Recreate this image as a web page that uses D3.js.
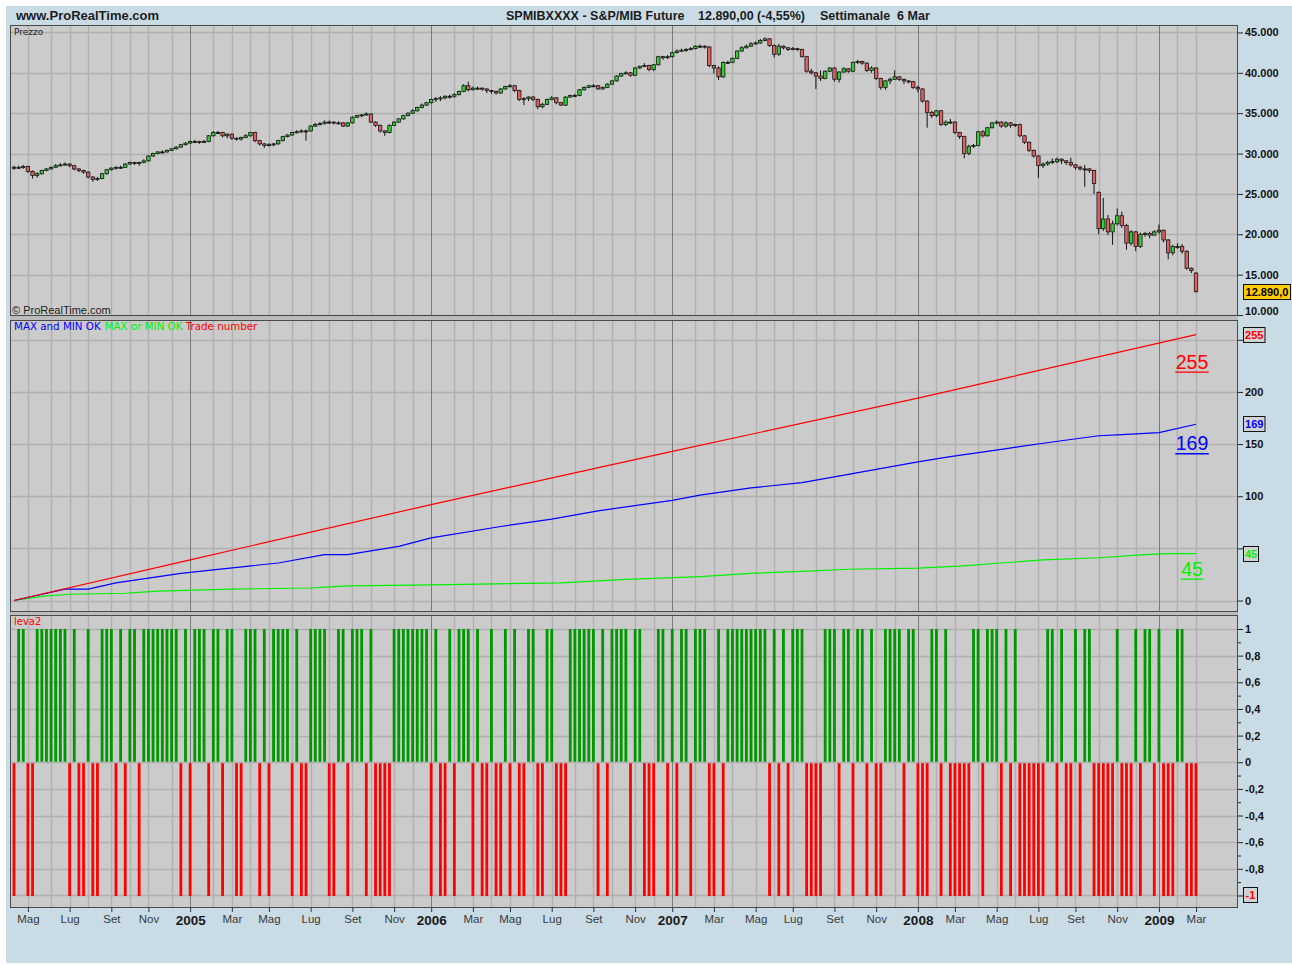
<!DOCTYPE html>
<html>
<head>
<meta charset="utf-8">
<script src="https://cdn.jsdelivr.net/npm/d3@7"></script>
<style>
  body { margin: 0; background: #fff; }
  svg text { font-family: "Liberation Sans", Arial, sans-serif; white-space: pre; }
</style>
</head>
<body>
<div id="chart"></div>
<script>
// weekly bars, dated by the monday of each week
var firstWeek = new Date(2004, 3, 12);
var lastWeek = new Date(2009, 2, 2);
var monthNames = ["Gen", "Feb", "Mar", "Apr", "Mag", "Giu", "Lug", "Ago", "Set", "Ott", "Nov", "Dic"];

// S&P/MIB future, thousands of points
var opens = [
 28.2,28.3,28.3,28.4,27.8,27.3,27.5,27.9,28.1,28.3,28.5,28.6,28.7,28.5,28.1,27.9,
 27.7,27.1,26.8,26.9,27.5,28.0,28.2,28.3,28.3,28.7,28.9,28.8,28.9,29.1,29.7,30.0,
 30.2,30.2,30.4,30.6,30.8,31.1,31.3,31.5,31.5,31.4,31.5,32.2,32.6,32.6,32.2,32.4,
 31.9,31.8,32.0,32.2,32.6,31.6,31.2,31.0,31.1,31.2,31.6,32.1,32.3,32.6,32.7,32.8,
 32.8,33.4,33.6,33.7,33.9,33.9,33.8,33.8,33.4,33.8,34.5,34.7,34.8,34.9,33.9,33.5,
 32.8,32.6,33.5,33.9,34.3,34.7,35.0,35.3,35.7,36.0,36.3,36.7,36.8,36.9,37.1,37.1,
 37.3,37.7,38.4,37.9,38.1,38.1,38.0,37.8,37.7,37.5,38.0,38.3,38.4,37.8,36.7,36.8,
 37.0,36.7,35.8,36.1,36.7,36.9,36.3,36.0,37.0,37.2,37.2,37.9,38.2,38.4,38.4,38.0,
 38.2,38.6,39.0,39.6,39.9,40.0,39.7,40.6,40.8,40.9,40.4,41.0,42.0,41.9,42.0,42.5,
 42.7,42.8,42.9,43.0,43.3,43.3,43.2,40.9,40.6,39.5,41.3,41.3,41.8,42.7,43.1,43.3,
 43.6,43.7,44.0,44.2,43.4,42.3,43.3,43.1,42.9,43.0,42.9,42.0,40.2,40.0,39.6,39.3,
 40.2,40.6,39.2,40.1,40.5,40.2,41.3,41.4,41.2,40.3,40.6,39.3,38.2,39.0,39.2,39.5,
 39.2,39.0,38.9,38.2,38.0,36.5,35.1,34.7,35.3,33.6,33.9,33.9,32.6,32.1,30.0,30.9,
 31.0,32.7,32.2,33.2,33.8,33.9,33.4,33.8,33.5,33.6,32.2,31.4,30.4,29.7,28.5,28.7,
 28.9,29.0,29.3,29.1,28.9,28.6,28.3,28.1,28.1,27.9,25.2,20.7,21.9,20.3,21.3,22.3,
 21.1,18.9,20.3,18.5,20.0,20.1,19.9,20.3,20.5,19.3,17.7,18.5,18.5,17.9,15.8,15.2];
var highs = [
 28.5,28.5,28.6,28.5,27.9,27.7,28.0,28.2,28.4,28.7,28.8,28.9,28.8,28.6,28.2,28.0,
 27.8,27.2,27.1,27.6,28.1,28.3,28.4,28.5,28.8,29.0,29.0,29.0,29.3,29.8,30.1,30.3,
 30.4,30.5,30.7,30.9,31.2,31.4,31.6,31.7,31.6,31.7,32.3,32.8,32.8,32.7,32.5,32.5,
 32.0,32.1,32.4,32.7,32.7,31.7,31.3,31.3,31.3,31.7,32.2,32.4,32.7,32.9,33.0,33.0,
 33.5,33.8,33.9,34.1,34.1,34.0,34.0,33.9,33.9,34.6,34.8,34.9,35.1,35.0,34.0,33.6,
 32.9,33.6,34.0,34.4,34.8,35.1,35.5,35.8,36.2,36.4,36.8,37.0,37.1,37.2,37.3,37.5,
 37.8,38.6,38.9,38.3,38.3,38.2,38.1,37.9,37.8,38.1,38.4,38.6,38.5,37.9,37.0,37.1,
 37.1,36.8,36.3,36.8,37.1,37.0,36.4,37.1,37.3,37.4,38.0,38.3,38.5,38.6,38.5,38.3,
 38.7,39.1,39.7,40.0,40.2,40.1,40.7,40.9,41.2,41.0,41.1,42.1,42.1,42.2,42.6,42.9,
 43.0,43.1,43.2,43.4,43.5,43.4,43.3,41.0,40.8,41.4,41.5,41.9,42.8,43.3,43.5,43.8,
 43.9,44.2,44.4,44.3,43.5,43.6,43.4,43.2,43.2,43.1,43.0,42.1,40.5,40.1,40.3,40.3,
 40.7,40.7,40.2,40.7,40.6,41.4,41.6,41.5,41.3,40.8,40.7,39.4,39.1,39.4,40.3,39.6,
 39.3,39.1,39.0,38.4,38.1,36.6,35.3,35.4,35.4,34.1,34.3,34.0,32.7,32.2,31.1,31.2,
 32.8,32.9,33.3,33.9,34.1,34.0,34.0,33.9,33.7,33.7,32.3,31.5,30.5,29.8,28.9,29.1,
 29.4,29.5,29.4,29.2,29.5,28.7,28.5,28.6,28.2,28.0,25.3,24.5,22.4,21.7,23.2,22.8,
 21.3,20.5,20.4,20.2,20.3,20.3,20.5,21.2,20.6,19.4,18.7,18.9,18.8,18.0,15.9,15.3];
var lows = [
 28.0,28.1,28.1,27.6,26.9,27.0,27.4,27.8,28.0,28.2,28.4,28.5,28.3,27.9,27.7,27.5,
 26.9,26.5,26.6,26.8,27.4,27.9,28.0,28.1,28.2,28.6,28.6,28.5,28.8,29.0,29.6,29.9,
 30.0,30.1,30.3,30.5,30.7,31.0,31.2,31.3,31.2,31.3,31.4,32.1,32.4,32.0,31.9,31.7,
 31.6,31.6,31.9,32.1,31.4,31.0,30.7,30.9,30.9,31.1,31.5,32.0,32.2,32.5,32.6,31.6,
 32.7,33.3,33.5,33.6,33.7,33.6,33.6,33.3,33.3,33.7,34.4,34.5,34.7,33.8,33.3,32.6,
 32.2,32.5,33.4,33.8,34.2,34.6,34.9,35.2,35.6,35.9,36.2,36.4,36.5,36.7,36.8,36.9,
 37.2,37.6,37.7,37.8,37.9,37.8,37.5,37.4,37.3,37.4,37.9,38.2,37.6,36.5,36.0,36.5,
 36.5,35.5,35.6,36.0,36.6,36.1,35.9,35.9,36.9,37.0,37.1,37.8,38.1,38.2,37.9,37.9,
 38.1,38.5,38.9,39.5,39.8,39.5,39.6,40.5,40.7,40.2,40.2,40.9,41.6,41.7,41.9,42.4,
 42.6,42.6,42.8,42.9,43.1,43.0,40.7,39.9,39.1,39.4,41.1,41.2,41.7,42.6,43.0,43.2,
 43.5,43.6,43.9,43.2,41.9,42.1,42.9,42.7,42.8,42.7,41.9,40.0,39.8,38.0,39.0,39.2,
 40.1,38.9,38.8,40.0,40.0,40.1,41.1,41.0,40.1,40.0,39.1,37.9,37.9,38.6,39.1,39.0,
 38.6,38.7,38.0,37.6,36.3,33.2,34.4,34.5,33.4,33.4,33.7,32.4,31.8,29.4,29.8,30.7,
 30.9,32.0,32.1,33.1,33.6,33.2,33.2,33.2,33.3,32.0,31.2,30.2,29.5,27.0,28.2,28.5,
 28.7,28.8,28.7,28.6,28.4,28.0,27.9,25.9,27.6,25.0,20.0,20.4,19.9,18.7,21.1,20.8,
 18.1,18.6,17.9,18.3,19.7,19.5,19.8,20.1,19.0,16.9,17.4,18.2,17.6,15.6,15.2,12.8];
var closes = [
 28.3,28.3,28.4,27.8,27.3,27.5,27.9,28.1,28.3,28.5,28.6,28.7,28.5,28.1,27.9,27.7,
 27.1,26.8,26.9,27.5,28.0,28.2,28.3,28.3,28.7,28.9,28.8,28.9,29.1,29.7,30.0,30.2,
 30.2,30.4,30.6,30.8,31.1,31.3,31.5,31.5,31.4,31.5,32.2,32.6,32.6,32.2,32.4,31.9,
 31.8,32.0,32.2,32.6,31.6,31.2,31.0,31.1,31.2,31.6,32.1,32.3,32.6,32.7,32.8,32.8,
 33.4,33.6,33.7,33.9,33.9,33.8,33.8,33.4,33.8,34.5,34.7,34.8,34.9,33.9,33.5,32.8,
 32.6,33.5,33.9,34.3,34.7,35.0,35.3,35.7,36.0,36.3,36.7,36.8,36.9,37.1,37.1,37.3,
 37.7,38.4,37.9,38.1,38.1,38.0,37.8,37.7,37.5,38.0,38.3,38.4,37.8,36.7,36.8,37.0,
 36.7,35.8,36.1,36.7,36.9,36.3,36.0,37.0,37.2,37.2,37.9,38.2,38.4,38.4,38.0,38.2,
 38.6,39.0,39.6,39.9,40.0,39.7,40.6,40.8,40.9,40.4,41.0,42.0,41.9,42.0,42.5,42.7,
 42.8,42.9,43.0,43.3,43.3,43.2,40.9,40.6,39.5,41.3,41.3,41.8,42.7,43.1,43.3,43.6,
 43.7,44.0,44.2,43.4,42.3,43.3,43.1,42.9,43.0,42.9,42.0,40.2,40.0,39.6,39.3,40.2,
 40.6,39.2,40.1,40.5,40.2,41.3,41.4,41.2,40.3,40.6,39.3,38.2,39.0,39.2,39.5,39.2,
 39.0,38.9,38.2,38.0,36.5,35.1,34.7,35.3,33.6,33.9,33.9,32.6,32.1,30.0,30.9,31.0,
 32.7,32.2,33.2,33.8,33.9,33.4,33.8,33.5,33.6,32.2,31.4,30.4,29.7,28.5,28.7,28.9,
 29.0,29.3,29.1,28.9,28.6,28.3,28.1,28.1,27.9,26.3,20.7,21.9,20.3,21.3,22.3,21.1,
 18.9,20.3,18.5,20.0,20.1,19.9,20.3,20.5,19.3,17.7,18.5,18.5,17.9,15.8,15.5,12.89];

// indicator "leva2": +1 / -1 each week
var leva2 = [
 -1,1,1,-1,-1,1,1,1,1,1,1,1,-1,1,-1,-1,
 1,-1,-1,1,1,1,-1,1,-1,1,1,-1,1,1,1,1,
 1,1,1,1,-1,1,-1,1,1,1,-1,1,1,-1,1,1,
 -1,-1,1,1,1,-1,1,-1,1,1,1,1,-1,1,-1,-1,
 1,1,1,1,-1,-1,1,1,-1,1,1,1,-1,1,-1,-1,
 -1,-1,1,1,1,1,1,1,1,1,-1,1,-1,-1,1,-1,
 1,1,1,-1,1,-1,-1,1,-1,-1,1,-1,1,-1,-1,1,
 1,-1,-1,1,1,-1,-1,-1,1,1,1,1,1,1,-1,1,
 -1,1,1,1,1,-1,1,1,-1,-1,-1,1,1,-1,1,-1,
 1,1,-1,1,1,1,-1,-1,1,-1,1,1,1,1,1,1,
 1,1,1,-1,1,-1,1,-1,1,1,1,-1,-1,-1,-1,1,
 1,1,-1,1,1,-1,1,1,-1,1,-1,-1,1,1,1,1,
 -1,1,1,-1,-1,-1,1,1,-1,1,-1,-1,-1,-1,-1,1,
 1,-1,1,1,1,-1,1,-1,1,-1,-1,-1,-1,-1,-1,1,
 1,-1,1,-1,-1,1,-1,1,1,-1,-1,-1,-1,-1,1,-1,
 -1,-1,1,-1,1,1,-1,1,-1,-1,-1,1,1,-1,-1,-1];

// cumulative counters (week index, value)
var tradeWeeks = [0, 38, 90, 142, 195, 255];
var tradeCount = [0, 39, 92, 143, 194, 255];
var andWeeks = [0, 11, 16, 22, 36, 42, 57, 67, 72, 83, 90, 105, 116, 126, 142, 148, 159, 170, 180, 195, 202, 213, 224, 234, 239, 247, 255];
var andCount = [0, 11, 11, 17, 26, 29, 36, 44, 44, 52, 60, 71, 78, 86, 96, 101, 108, 113, 121, 133, 138, 145, 152, 158, 159, 161, 169];
var orWeeks = [0, 6, 12, 24, 31, 47, 64, 68, 72, 90, 118, 131, 148, 159, 170, 180, 195, 204, 213, 222, 234, 244, 249, 255];
var orCount = [0, 4, 6, 7, 9, 11, 12, 13, 14, 15, 17, 20, 23, 26, 28, 30, 31, 33, 36, 39, 41, 44, 45, 45];

var priceTicks = [10, 15, 20, 25, 30, 35, 40, 45];
var countTicks = [0, 50, 100, 150, 200, 250];
var countLabels = [0, 100, 150, 200];   // 50 and 250 sit under the value boxes
var levaTicks = [1, 0.8, 0.6, 0.4, 0.2, 0, -0.2, -0.4, -0.6, -0.8, -1];
var levaLabels = [1, 0.8, 0.6, 0.4, 0.2, 0, -0.2, -0.4, -0.6, -0.8];
var levaMinor = [0.9, 0.7, 0.5, 0.3, 0.1, -0.1, -0.3, -0.5, -0.7, -0.9];

var itLocale = d3.formatLocale({ decimal: ",", thousands: ".", grouping: [3], currency: ["", ""], minus: "-" });
var fmtInt = itLocale.format(",");
var fmtDec = itLocale.format(".1~f");
var fmtPrice = itLocale.format(",.1f");

var weeks = d3.timeMonday.range(firstWeek, d3.timeDay.offset(lastWeek, 1));

drawChart();

function drawChart() {
    var width = 1292, height = 965,
        left = 10, right = 1238,
        pPrice = { top: 25, bottom: 316 },
        pCount = { top: 320, bottom: 612 },
        pLeva = { top: 615, bottom: 908 };

    var x = d3.scaleLinear().domain([0, weeks.length - 1]).range([14, 1196]);
    var yPrice = d3.scaleLinear().domain([9.88, 45.8]).range([pPrice.bottom, 26]);
    var yCount = d3.scaleLinear().domain([-11, 268]).range([pCount.bottom, pCount.top + 1]);
    var yLeva = d3.scaleLinear().domain([-1.094, 1.105]).range([pLeva.bottom, pLeva.top]);

    // first bar of each month
    var monthIdx = [];
    weeks.forEach(function(d, i) {
        if (i > 0 && d.getMonth() !== weeks[i - 1].getMonth()) monthIdx.push(i);
    });
    var labelIdx = monthIdx.filter(function(i) { return weeks[i].getMonth() % 2 === 0; });

    var svg = d3.select('#chart').append('svg')
        .attr('width', width)
        .attr('height', height);

    // ===========================================================================================
    // frame and title bar
    svg.append('rect').attr('x', 6).attr('y', 6).attr('width', width - 6).attr('height', 957)
        .attr('fill', '#c9dbe5');

    svg.append('text').attr('x', 16).attr('y', 20).text('www.ProRealTime.com')
        .style('font-weight', 'bold').style('font-size', '13px').attr('fill', '#1c1c1c');

    var titleBits = [['SPMIBXXXX - S&P/MIB Future', 506], ['12.890,00 (-4,55%)', 698], ['Settimanale  6 Mar', 820]];
    svg.selectAll('text.title').data(titleBits).enter().append('text')
        .attr('class', 'title')
        .attr('x', function(d) { return d[1]; })
        .attr('y', 20)
        .text(function(d) { return d[0]; })
        .style('font-weight', 'bold').style('font-size', '12.5px').attr('fill', '#1c1c1c');

    svg.append('rect').attr('x', left).attr('y', pPrice.top).attr('width', right - left)
        .attr('height', pLeva.bottom - pPrice.top).attr('fill', '#bcbcbc');
    // ===========================================================================================

    // ===========================================================================================
    // panels with grid
    function panel(p, yScale, gridVals) {
        var g = svg.append('g');
        g.append('rect').attr('x', left).attr('y', p.top).attr('width', right - left)
            .attr('height', p.bottom - p.top).attr('fill', '#cbcbcb');
        g.selectAll('line.hg').data(gridVals).enter().append('line')
            .attr('x1', left).attr('x2', right)
            .attr('y1', function(d) { return Math.round(yScale(d)) + 0.5; })
            .attr('y2', function(d) { return Math.round(yScale(d)) + 0.5; })
            .attr('stroke', '#b0b0b0').attr('stroke-width', 1.4);
        g.selectAll('line.vg').data(monthIdx).enter().append('line')
            .attr('x1', function(i) { return Math.round(x(i)) + 0.5; })
            .attr('x2', function(i) { return Math.round(x(i)) + 0.5; })
            .attr('y1', p.top).attr('y2', p.bottom)
            .attr('stroke', function(i) { return weeks[i].getMonth() === 0 ? '#7a7a7a' : '#b0b0b0'; })
            .attr('stroke-width', function(i) { return weeks[i].getMonth() === 0 ? 1 : 1.4; });
        return g;
    }

    var gPrice = panel(pPrice, yPrice, priceTicks);
    var gCount = panel(pCount, yCount, countTicks);
    var gLeva = panel(pLeva, yLeva, levaTicks);
    // ===========================================================================================

    // ===========================================================================================
    // candlesticks
    var candles = weeks.map(function(d, i) {
        return { i: i, o: opens[i], h: highs[i], l: lows[i], c: closes[i] };
    });

    gPrice.selectAll('line.wick').data(candles).enter().append('line')
        .attr('x1', function(d) { return x(d.i); })
        .attr('x2', function(d) { return x(d.i); })
        .attr('y1', function(d) { return yPrice(d.h); })
        .attr('y2', function(d) { return yPrice(d.l); })
        .attr('stroke', '#111').attr('stroke-width', 1);

    gPrice.selectAll('rect.body').data(candles).enter().append('rect')
        .attr('x', function(d) { return x(d.i) - 1.7; })
        .attr('width', 3.4)
        .attr('y', function(d) { return yPrice(Math.max(d.o, d.c)); })
        .attr('height', function(d) { return Math.max(1, Math.abs(yPrice(d.o) - yPrice(d.c))); })
        .attr('fill', function(d) { return d.c > d.o ? '#33cc33' : (d.c < d.o ? '#e06060' : '#222'); })
        .attr('stroke', '#161616').attr('stroke-width', 0.8);

    gPrice.append('text').attr('x', 14).attr('y', 35).text('Prezzo')
        .style('font-family', '"DejaVu Sans", sans-serif').style('font-size', '9px').attr('fill', '#222');
    gPrice.append('text').attr('x', 12).attr('y', 314).text('\u00a9 ProRealTime.com')
        .style('font-size', '11px').attr('fill', '#222');
    // ===========================================================================================

    // ===========================================================================================
    // counters
    function series(ws, vs) { return ws.map(function(w, k) { return [w, vs[k]]; }); }
    var line = d3.line()
        .x(function(d) { return x(d[0]); })
        .y(function(d) { return yCount(d[1]); });

    var counters = [
        { name: 'MAX or MIN OK', color: '#00f000', data: series(orWeeks, orCount), off: 15 },
        { name: 'MAX and MIN OK', color: '#0000ff', data: series(andWeeks, andCount), off: 19 },
        { name: 'Trade number', color: '#ff0000', data: series(tradeWeeks, tradeCount), off: 27 }
    ];

    gCount.selectAll('path.counter').data(counters).enter().append('path')
        .attr('d', function(d) { return line(d.data); })
        .attr('fill', 'none')
        .attr('stroke', function(d) { return d.color; })
        .attr('stroke-width', 1.2);

    var legend = gCount.append('text').attr('x', 14).attr('y', 330)
        .style('font-family', '"DejaVu Sans", sans-serif').style('font-size', '10.3px');
    [counters[1], counters[0], counters[2]].forEach(function(d, k) {
        legend.append('tspan').text(d.name).attr('fill', d.color).attr('dx', k ? 4 : 0);
    });

    // last value written under each line
    counters.forEach(function(d) {
        var last = d.data[d.data.length - 1][1];
        var cy = yCount(last) + d.off;
        gCount.append('text').attr('x', 1192).attr('y', cy + 7)
            .attr('text-anchor', 'middle').text(last)
            .style('font-size', '19.5px').attr('fill', d.color);
        var w = String(last).length * 10.8 + 1;
        gCount.append('line').attr('x1', 1192 - w / 2).attr('x2', 1192 + w / 2)
            .attr('y1', cy + 10.5).attr('y2', cy + 10.5)
            .attr('stroke', d.color).attr('stroke-width', 1.3);
    });
    // ===========================================================================================

    // ===========================================================================================
    // leva2 bars
    gLeva.selectAll('rect.bar').data(leva2).enter().append('rect')
        .attr('x', function(d, i) { return x(i) - 1.4; })
        .attr('width', 2.8)
        .attr('y', function(d) { return d > 0 ? yLeva(d) : yLeva(0) + 1; })
        .attr('height', function(d) { return Math.abs(yLeva(d) - yLeva(0)) - 0.5; })
        .attr('fill', function(d) { return d > 0 ? '#009800' : '#ff0000'; });

    gLeva.append('text').attr('x', 14).attr('y', 625).text('leva2')
        .style('font-family', '"DejaVu Sans", sans-serif').style('font-size', '10px').attr('fill', '#ff0000');
    // ===========================================================================================

    // ===========================================================================================
    // panel borders
    [pPrice, pCount, pLeva].forEach(function(p) {
        svg.append('rect').attr('x', left + 0.5).attr('y', p.top + 0.5)
            .attr('width', right - left - 1).attr('height', p.bottom - p.top - 1)
            .attr('fill', 'none').attr('stroke', '#4a4a4a').attr('stroke-width', 1);
    });
    // ===========================================================================================

    // ===========================================================================================
    // axes
    function styleAxis(g) {
        g.select('.domain').remove();
        g.selectAll('line').attr('stroke', '#222');
        g.selectAll('text').style('font-family', '"Liberation Sans", Arial, sans-serif')
            .style('font-size', '11px').style('font-weight', 'bold').attr('fill', '#111');
    }
    function rightAxis(scale, vals, size, fmt) {
        return svg.append('g').attr('transform', 'translate(' + right + ',0)')
            .call(d3.axisRight(scale).tickValues(vals).tickSize(size).tickPadding(2).tickFormat(fmt))
            .call(styleAxis);
    }

    var axPrice = rightAxis(yPrice, priceTicks, 5, function(v) { return fmtInt(v * 1000); });
    axPrice.selectAll('.tick text').attr('y', function(v) {
        return Math.min(0, (pPrice.bottom - 5) - yPrice(v));
    });

    rightAxis(yCount, countLabels, 5, function(v) { return v; });
    rightAxis(yCount, [50, 250], 5, '');

    rightAxis(yLeva, levaLabels, 5, function(v) { return fmtDec(v); });
    rightAxis(yLeva, [-1], 5, '');
    rightAxis(yLeva, levaMinor, 3, '');

    var axX = svg.append('g').attr('transform', 'translate(0,' + pLeva.bottom + ')')
        .call(d3.axisBottom(x).tickValues(labelIdx).tickSize(4).tickPadding(3)
            .tickFormat(function(i) {
                var d = weeks[i];
                return d.getMonth() === 0 ? d.getFullYear() : monthNames[d.getMonth()];
            }));
    axX.select('.domain').remove();
    axX.selectAll('line').attr('stroke', '#333');
    axX.selectAll('text')
        .style('font-family', '"Liberation Sans", Arial, sans-serif')
        .style('font-size', function(i) { return weeks[i].getMonth() === 0 ? '13.5px' : '11.5px'; })
        .style('font-weight', function(i) { return weeks[i].getMonth() === 0 ? 'bold' : 'normal'; })
        .attr('fill', function(i) { return weeks[i].getMonth() === 0 ? '#1a1a1a' : '#3a3a3a'; });
    // ===========================================================================================

    // ===========================================================================================
    // value boxes on the right scale
    function valueBox(yv, label, color, fill, w) {
        svg.append('rect').attr('x', right + 5.5).attr('y', Math.round(yv) - 7.5)
            .attr('width', w).attr('height', 15)
            .attr('fill', fill).attr('stroke', '#111').attr('stroke-width', 1);
        svg.append('text').attr('x', right + 5.5 + w / 2).attr('y', Math.round(yv) + 4)
            .attr('text-anchor', 'middle').text(label)
            .style('font-size', '11px').style('font-weight', 'bold').attr('fill', color);
    }
    var lastClose = closes[closes.length - 1];
    valueBox(yPrice(lastClose), fmtPrice(lastClose * 1000), '#000', '#ffcc00', 47);
    counters.forEach(function(d) {
        var last = d.data[d.data.length - 1][1];
        valueBox(yCount(last), String(last), d.color, '#d2d2d2', String(last).length * 6.5 + 2);
    });
    valueBox(yLeva(leva2[leva2.length - 1]), fmtDec(leva2[leva2.length - 1]), '#ff0000', '#d2d2d2', 14);
    // ===========================================================================================
}
</script>
</body>
</html>
